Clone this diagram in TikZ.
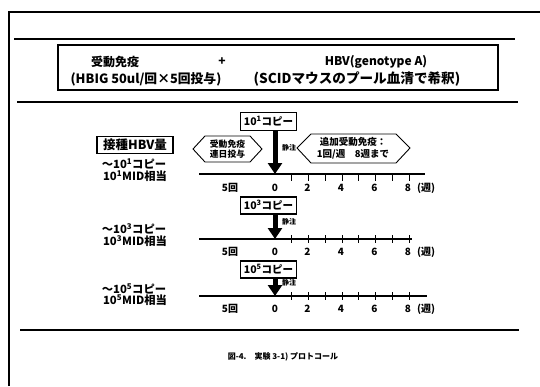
\documentclass[tikz,border=0pt]{standalone}
\usepackage{fontspec}
\setmainfont{Noto Sans CJK JP}
\usetikzlibrary{arrows.meta}
\newcommand{\fsz}[1]{\fontsize{#1}{#1}\selectfont}
\begin{document}
\begin{tikzpicture}[x=1pt,y=-1pt,
  every node/.style={inner sep=0pt,font=\bfseries},
  rulebar/.style={line width=2.4pt},
  frameline/.style={line width=1.4pt},
  copybox/.style={draw,line width=1.1pt,minimum width=56pt,minimum height=18pt,font=\bfseries\fsz{10.5}},
  lefttxt/.style={font=\bfseries\fsz{11.3},align=center},
  hexline/.style={line width=0.9pt},
  hextxt/.style={font=\bfseries\fsz{8.8},align=center},
  axisline/.style={line width=1.3pt},
  tickline/.style={line width=1pt},
  ticklbl/.style={font=\bfseries\fsz{10}},
  inj/.style={font=\bfseries\fsz{7}},
  bigarrow/.style={line width=5pt,-{Triangle[width=14pt,length=11pt]}},
]
\useasboundingbox (0,0) rectangle (540,386);
% frame and rules
\draw[frameline] (9,386) -- (9,12) -- (540,12);
\draw[rulebar] (14,39) -- (515,39);
\draw[rulebar] (17,102) -- (518,102);
\draw[rulebar] (20,330) -- (519,330);
% top box
\draw[line width=1.1pt] (58,45) rectangle (498,90);
\node[font=\bfseries\fsz{12}] (t1) at (115,62) {受動免疫};
\node[font=\bfseries\fsz{12}] (t2) at (222,62) {+};
\node[font=\bfseries\fsz{12}] (t3) at (376,62) {HBV(genotype A)};
\node[font=\bfseries\fsz{12.8}] (t4) at (146,79) {(HBIG 50ul/回×5回投与)};
\node[font=\bfseries\fsz{13.6}] (t5) at (357,79) {(SCIDマウスのプール血清で希釈)};
% section 1
\node[draw,line width=1.3pt,minimum width=76pt,minimum height=17pt,font=\bfseries\fsz{12.5}] (hbv) at (135,145) {接種HBV量};
\node[copybox] (b1) at (268.5,121.5) {10\textsuperscript{1}コピー};
\node[lefttxt] (l1a) at (134,164) {～10\textsuperscript{1}コピー};
\node[lefttxt] (l1b) at (135,176) {10\textsuperscript{1}MID相当};
\draw[hexline] (193,149) -- (205,136) -- (250,136) -- (262,149) -- (250,162) -- (205,162) -- cycle;
\node[hextxt] (hx1) at (227.5,149) {受動免疫\\[1pt]連日投与};
\draw[hexline] (297,148) -- (311,134) -- (396,134) -- (410,148) -- (396,163) -- (311,163) -- cycle;
\node[hextxt,font=\bfseries\fsz{9.5}] (hx2) at (353,148.5) {追加受動免疫：\\[2pt]1回/週\quad 8週まで};
\coordinate (a1s) at (199,174);
\coordinate (a1e) at (425,174);
\coordinate (a1z) at (275,174);
\draw[axisline] (a1s) -- (a1e);
\foreach \w in {1,...,8} \draw[tickline] (275+16.75*\w,174) -- (275+16.75*\w,181);
\draw[bigarrow] (b1.south -| a1z) -- (a1z);
\node[inj] (i1) at (289,148) {静注};
\node[ticklbl] (k1a) at (230,188) {5回};
\node[ticklbl] (k1b) at (275,188) {0};
\foreach \w/\n in {2/2,4/4,6/6,8/8} \node[ticklbl] at (274+16.75*\w,188) {\n};
\node[ticklbl] (k1u) at (426,188.5) {(週)};
% section 2
\node[copybox,minimum height=17pt] (b2) at (268.5,205.5) {10\textsuperscript{3}コピー};
\node[lefttxt] (l2a) at (134,229) {～10\textsuperscript{3}コピー};
\node[lefttxt] (l2b) at (135,241) {10\textsuperscript{3}MID相当};
\coordinate (a2s) at (199,239);
\coordinate (a2e) at (412,239);
\coordinate (a2z) at (275,239);
\draw[axisline] (a2s) -- (a2e);
\foreach \w in {1,...,8} \draw[tickline] (275+16.75*\w,235) -- (275+16.75*\w,243);
\draw[bigarrow] (b2.south -| a2z) -- (a2z);
\node[inj] (i2) at (289,222) {静注};
\node[ticklbl] (k2a) at (230,252) {5回};
\node[ticklbl] (k2b) at (275,252) {0};
\foreach \w/\n in {2/2,4/4,6/6,8/8} \node[ticklbl] at (274+16.75*\w,252) {\n};
\node[ticklbl] (k2u) at (426,252.5) {(週)};
% section 3
\node[copybox,minimum height=17pt] (b3) at (268.5,269.5) {10\textsuperscript{5}コピー};
\node[lefttxt] (l3a) at (134,289) {～10\textsuperscript{5}コピー};
\node[lefttxt] (l3b) at (135,300) {10\textsuperscript{5}MID相当};
\coordinate (a3s) at (199,296);
\coordinate (a3e) at (427,296);
\coordinate (a3z) at (275,296);
\draw[axisline] (a3s) -- (a3e);
\foreach \w in {1,...,8} \draw[tickline] (275+16.75*\w,292) -- (275+16.75*\w,300);
\draw[bigarrow] (b3.south -| a3z) -- (a3z);
\node[inj] (i3) at (289,283) {静注};
\node[ticklbl] (k3a) at (230,309) {5回};
\node[ticklbl] (k3b) at (275,309) {0};
\foreach \w/\n in {2/2,4/4,6/6,8/8} \node[ticklbl] at (274+16.75*\w,309) {\n};
\node[ticklbl] (k3u) at (426,309.5) {(週)};
% caption
\node[font=\bfseries\fsz{8}] (cap) at (283,357) {図-4.\quad 実験 3-1) プロトコール};
\end{tikzpicture}
\end{document}
